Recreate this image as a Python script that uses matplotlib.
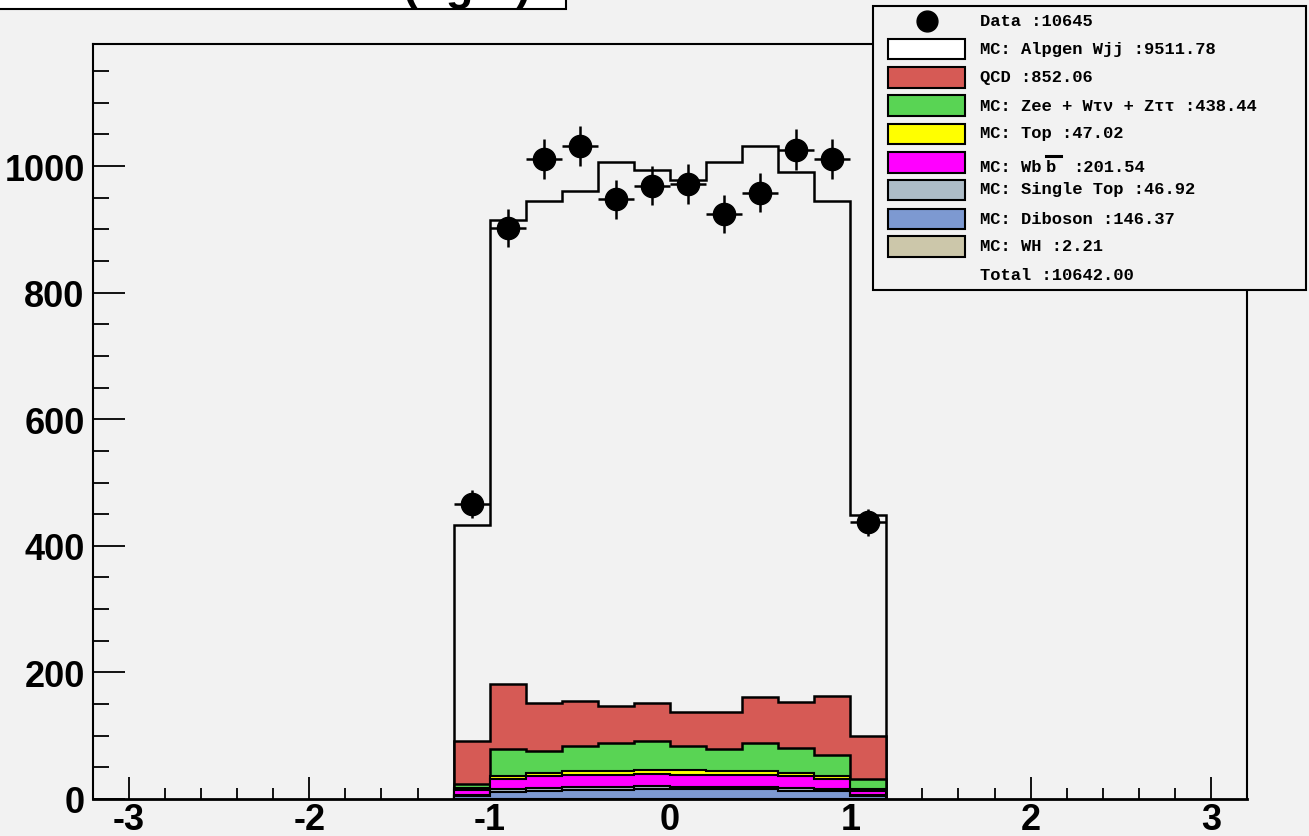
import matplotlib
matplotlib.use('Agg')
import matplotlib.pyplot as plt
from matplotlib.patches import Rectangle
from matplotlib.lines import Line2D
import numpy as np

# figure size in pixels (dpi 100)
W, H = 1309, 837
BG = '#f2f2f2'

bin_edges = [-1.2, -1.0, -0.8, -0.6, -0.4, -0.2, 0.0, 0.2, 0.4, 0.6, 0.8, 1.0, 1.2]

data = [466, 903, 1011, 1032, 948, 969, 972, 924, 958, 1026, 1011, 437]

# stacked MC, bottom to top
wh = [0.1, 0.2, 0.2, 0.2, 0.2, 0.2, 0.2, 0.2, 0.2, 0.2, 0.2, 0.1]
diboson = [4, 11, 13, 14, 14, 15, 15, 15, 15, 13, 12, 4]
single_top = [2, 4, 4.5, 5, 4.5, 5, 4.5, 4, 4, 3.5, 3.5, 2]
wbb = [8, 16, 18, 19, 20, 19, 19, 19, 19, 19, 16, 7]
top = [2.5, 4.5, 6, 6, 6, 6.5, 6.5, 6, 6, 5.5, 4, 2]
zll = [7, 44, 33.5, 39.5, 43.5, 46.5, 38.5, 35, 45, 40, 34, 17]
qcd = [68, 102, 77, 71, 59, 60, 54, 59, 72, 72, 93, 67]
wjj = [342, 733, 792, 806, 859, 842, 841, 868, 871, 837, 782, 350]

layers = [
    (wh, '#ccc7aa'),
    (diboson, '#7d99d1'),
    (single_top, '#adbcc7'),
    (wbb, '#ff00ff'),
    (top, '#ffff00'),
    (zll, '#59d454'),
    (qcd, '#d65a55'),
    (wjj, None),
]

legend_rows = [
    ('Data :10645', 'data'),
    ('MC: Alpgen Wjj :9511.78', 'white'),
    ('QCD :852.06', '#d65a55'),
    ('MC: Zee + W\u03c4\u03bd + Z\u03c4\u03c4 :438.44', '#59d454'),
    ('MC: Top :47.02', '#ffff00'),
    ('MC: Wbb :201.54', '#ff00ff'),
    ('MC: Single Top :46.92', '#adbcc7'),
    ('MC: Diboson :146.37', '#7d99d1'),
    ('MC: WH :2.21', '#ccc7aa'),
    ('Total :10642.00', None),
]

xticks = [-3, -2, -1, 0, 1, 2, 3]
yticks = [0, 200, 400, 600, 800, 1000]


def px(x, y):
    return x / W, 1 - y / H


fig = plt.figure(figsize=(W / 100, H / 100), dpi=100, facecolor=BG)
ax = fig.add_axes([93 / W, 37 / H, (1247 - 93) / W, (800 - 45) / H])
ax.set_facecolor(BG)

# stack: draw cumulative histograms from top down, like ROOT does
cum = np.cumsum([np.array(v, dtype=float) for v, _ in layers], axis=0)
for i in range(len(layers) - 1, -1, -1):
    color = layers[i][1]
    if color is None:
        ax.stairs(cum[i], bin_edges, baseline=0, fill=False, color='black', lw=1.8, zorder=2)
    else:
        ax.stairs(cum[i], bin_edges, baseline=0, fill=True, facecolor=color,
                  edgecolor='black', lw=1.5 if i < 5 else 1.8, zorder=2)

centers = 0.5 * (np.array(bin_edges[:-1]) + np.array(bin_edges[1:]))
d = np.array(data, dtype=float)
ax.errorbar(centers, d, yerr=np.sqrt(d), xerr=0.1, fmt='o', color='black',
            ms=16, elinewidth=1.8, capsize=0, zorder=4)

ax.set_xlim(-3.2, 3.2)
ax.set_ylim(0, 1193)
ax.set_xticks(xticks)
ax.set_yticks(yticks)
ax.set_xticks(np.arange(-3.2, 3.21, 0.2), minor=True)
ax.set_yticks(np.arange(0, 1193, 50), minor=True)

tick_font = dict(family=['Liberation Sans', 'DejaVu Sans'], weight='bold', size=26)
ax.set_xticklabels([str(t) for t in xticks], **tick_font)
ax.set_yticklabels([str(t) for t in yticks], **tick_font)
ax.tick_params(axis='x', which='major', direction='in', length=15.8, width=1.3, pad=2.5)
ax.tick_params(axis='x', which='minor', direction='in', length=7.9, width=1.3)
ax.tick_params(axis='y', which='major', direction='in', length=23, width=1.3, pad=6)
ax.tick_params(axis='y', which='minor', direction='in', length=11.5, width=1.3)
for s in ax.spines.values():
    s.set_linewidth(1.5)
ax.spines['bottom'].set_linewidth(2)

# title box, mostly cut off at the top
x0, y0 = px(-5, 9.6)
fig.add_artist(Rectangle((x0, y0), 571 / W, 30 / H, transform=fig.transFigure,
                         facecolor='white', edgecolor='black', lw=1.5, zorder=5))
fig.text(*px(531, 0), 'Muon Eta (tight)', ha='right', va='baseline',
         family=['Liberation Sans', 'DejaVu Sans'], weight='bold', size=32.5, zorder=6)

# legend
lx0, ly0 = px(873, 291)
fig.add_artist(Rectangle((lx0, ly0), 433 / W, 284 / H, transform=fig.transFigure,
                         facecolor=BG, edgecolor='black', lw=1.5, zorder=5))
mono = dict(family=['Liberation Mono', 'DejaVu Sans Mono'], weight='bold', size=12.3)
baselines = [26, 54.3, 82.3, 111, 138.3, 171.7, 194.3, 224, 251, 280]
box_centers = [None, 50, 78.3, 106.7, 135, 163.3, 191, 220, 247.7, None]
for (label, col), yb, yc in zip(legend_rows, baselines, box_centers):
    if col == 'data':
        fig.add_artist(Line2D([926.7 / W], [1 - 22 / H], marker='o', ms=15, color='black',
                              transform=fig.transFigure, zorder=6))
    elif col is not None:
        bx, by = px(888, yc + 10.3)
        fig.add_artist(Rectangle((bx, by), 77 / W, 20.7 / H, transform=fig.transFigure,
                                 facecolor=col, edgecolor='black', lw=1.5, zorder=6))
    if label.startswith('MC: Wbb'):
        fig.text(*px(980, yb), 'MC: Wb', va='baseline', zorder=6, **mono)
        fig.text(*px(1046, yb), 'b', va='baseline', zorder=6, **mono)
        fig.add_artist(Line2D([1046 / W, 1061 / W], [1 - 156.7 / H] * 2, color='black',
                              lw=2.2, transform=fig.transFigure, zorder=6))
        fig.text(*px(1073, yb), label.split(' ', 2)[2], va='baseline', zorder=6, **mono)
    else:
        fig.text(*px(980, yb), label, va='baseline', zorder=6, **mono)

fig.savefig('out.png', dpi=100, facecolor=BG)
